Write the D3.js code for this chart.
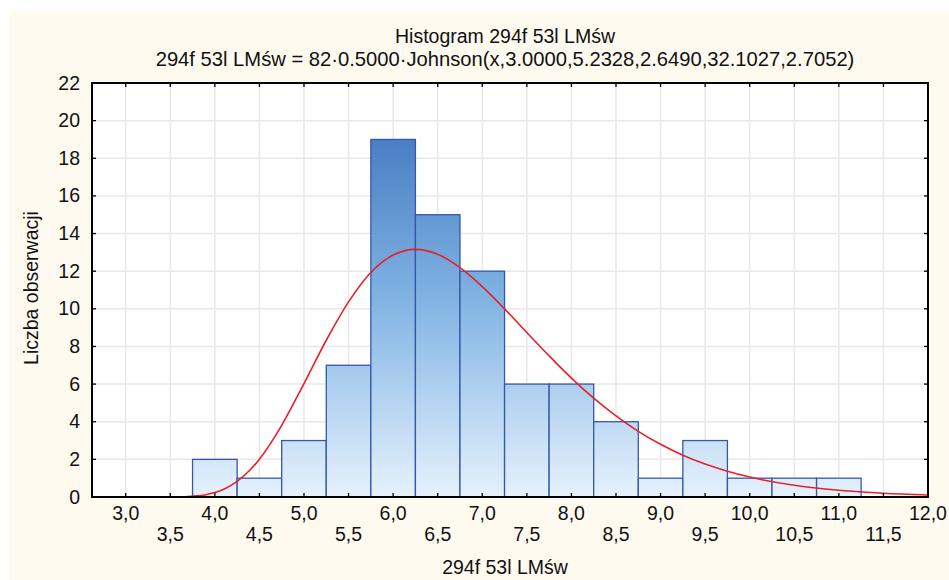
<!DOCTYPE html>
<html>
<head>
<meta charset="utf-8">
<script src="https://cdn.jsdelivr.net/npm/d3@7"></script>
<style>
  html, body { margin: 0; padding: 0; background: #ffffff; }
  svg { display: block; }
  text { font-family: Arial, "Liberation Sans", sans-serif; fill: #111; }
</style>
</head>
<body>
<svg id="chart" width="949" height="580"></svg>
<script>
// ---- data ----
const binCenters = [4.0, 4.5, 5.0, 5.5, 6.0, 6.5, 7.0, 7.5, 8.0, 8.5, 9.0, 9.5, 10.0, 10.5, 11.0];
const counts     = [2, 1, 3, 7, 19, 15, 12, 6, 6, 4, 1, 3, 1, 1, 1];
const binWidth = 0.5;

// fitted curve
const curveX = [2.62, 2.75, 3.0, 3.25, 3.5, 3.6, 3.7, 3.8, 3.9, 4.0, 4.1, 4.25, 4.4, 4.5, 4.75, 5.0, 5.25, 5.5, 5.75, 6.0, 6.25, 6.5, 6.75, 7.0, 7.25, 7.5, 7.75, 8.0, 8.25, 8.5, 8.75, 9.0, 9.25, 9.5, 9.75, 10.0, 10.5, 11.0, 11.5, 12.0];
const curveY = [0, 0, 0, 0, 0.002, 0.008, 0.024, 0.058, 0.123, 0.235, 0.41, 0.83, 1.46, 2.01, 3.81, 6.03, 8.33, 10.37, 11.93, 12.86, 13.16, 12.90, 12.19, 11.18, 10.00, 8.74, 7.50, 6.32, 5.25, 4.31, 3.49, 2.80, 2.22, 1.75, 1.37, 1.06, 0.62, 0.36, 0.20, 0.11];

const xTicksMajor = [3.0, 4.0, 5.0, 6.0, 7.0, 8.0, 9.0, 10.0, 11.0, 12.0];
const xTicksMinor = [3.5, 4.5, 5.5, 6.5, 7.5, 8.5, 9.5, 10.5, 11.5];
const yTicks = [0, 2, 4, 6, 8, 10, 12, 14, 16, 18, 20, 22];

const title1 = "Histogram 294f 53l LMśw";
const title2 = "294f 53l LMśw = 82·0.5000·Johnson(x,3.0000,5.2328,2.6490,32.1027,2.7052)";
const xLabel = "294f 53l LMśw";
const yLabel = "Liczba obserwacji";

// ---- layout ----
const svg = d3.select("#chart");
const L = 92, R = 928, T = 83, B = 497;
const FS = 19.5;
const fmt = v => v.toFixed(1).replace(".", ",");

const x = d3.scaleLinear().domain([2.622, 12.0]).range([L, R]);
const y = d3.scaleLinear().domain([0, 22]).range([B, T]);

// cream panel
svg.append("rect").attr("x", 9).attr("y", 12).attr("width", 940).attr("height", 568).attr("fill", "#fffaf0");
// plot background
svg.append("rect").attr("x", L).attr("y", T).attr("width", R - L).attr("height", B - T).attr("fill", "#ffffff");

// gradient
const defs = svg.append("defs");
const grad = defs.append("linearGradient").attr("id", "barGrad")
  .attr("gradientUnits", "userSpaceOnUse").attr("x1", 0).attr("x2", 0).attr("y1", T).attr("y2", B);
grad.append("stop").attr("offset", "0%").attr("stop-color", "#3f74bd");
grad.append("stop").attr("offset", "14%").attr("stop-color", "#4a80c4");
grad.append("stop").attr("offset", "52%").attr("stop-color", "#80b3e3");
grad.append("stop").attr("offset", "100%").attr("stop-color", "#e6f2fd");

// gridlines
const gridTicks = xTicksMajor.concat(xTicksMinor).filter(v => v < 12);
svg.append("g").selectAll("line").data(gridTicks).join("line")
  .attr("x1", d => x(d)).attr("x2", d => x(d)).attr("y1", T).attr("y2", B)
  .attr("stroke", "#e8e8e8").attr("stroke-width", 1.5);
svg.append("g").selectAll("line").data(yTicks.filter(v => v > 0 && v < 22)).join("line")
  .attr("x1", L).attr("x2", R).attr("y1", d => y(d)).attr("y2", d => y(d))
  .attr("stroke", "#e8e8e8").attr("stroke-width", 1.5);

// bars
svg.append("g").selectAll("rect").data(binCenters).join("rect")
  .attr("x", (d) => x(d - binWidth / 2))
  .attr("width", d => x(d + binWidth / 2) - x(d - binWidth / 2))
  .attr("y", (d, i) => y(counts[i]))
  .attr("height", (d, i) => y(0) - y(counts[i]))
  .attr("fill", "url(#barGrad)")
  .attr("stroke", "#3558a8").attr("stroke-width", 1.3);

// curve
const line = d3.line().x(d => x(d[0])).y(d => y(d[1])).curve(d3.curveMonotoneX);
svg.append("path").datum(curveX.map((v, i) => [v, curveY[i]]))
  .attr("d", line).attr("fill", "none").attr("stroke", "#e8202a").attr("stroke-width", 1.6);

// frame
svg.append("rect").attr("x", L).attr("y", T).attr("width", R - L).attr("height", B - T)
  .attr("fill", "none").attr("stroke", "#000").attr("stroke-width", 2);

// ticks (inward)
const allX = xTicksMajor.concat(xTicksMinor);
const tk = svg.append("g").attr("stroke", "#000").attr("stroke-width", 1.3);
allX.forEach(v => {
  tk.append("line").attr("x1", x(v)).attr("x2", x(v)).attr("y1", B).attr("y2", B - 4);
  tk.append("line").attr("x1", x(v)).attr("x2", x(v)).attr("y1", T).attr("y2", T + 4);
});
yTicks.forEach(v => {
  tk.append("line").attr("x1", L).attr("x2", L + 4).attr("y1", y(v)).attr("y2", y(v));
  tk.append("line").attr("x1", R).attr("x2", R - 4).attr("y1", y(v)).attr("y2", y(v));
});

// tick labels
svg.append("g").selectAll("text").data(yTicks).join("text")
  .attr("x", 80).attr("y", d => y(d) + 6.5).attr("text-anchor", "end")
  .attr("font-size", FS).text(d => d);
svg.append("g").selectAll("text").data(xTicksMajor).join("text")
  .attr("x", d => x(d)).attr("y", 520).attr("text-anchor", "middle")
  .attr("font-size", FS).text(fmt);
svg.append("g").selectAll("text").data(xTicksMinor).join("text")
  .attr("x", d => x(d)).attr("y", 541).attr("text-anchor", "middle")
  .attr("font-size", FS).text(fmt);

// titles
svg.append("text").attr("x", 505).attr("y", 43).attr("text-anchor", "middle").attr("font-size", FS).text(title1);
svg.append("text").attr("x", 505).attr("y", 66).attr("text-anchor", "middle").attr("font-size", 20.2).text(title2);
svg.append("text").attr("x", 505).attr("y", 574).attr("text-anchor", "middle").attr("font-size", FS).text(xLabel);
svg.append("text").attr("transform", "translate(38,288) rotate(-90)").attr("text-anchor", "middle").attr("font-size", FS).text(yLabel);
</script>
</body>
</html>
